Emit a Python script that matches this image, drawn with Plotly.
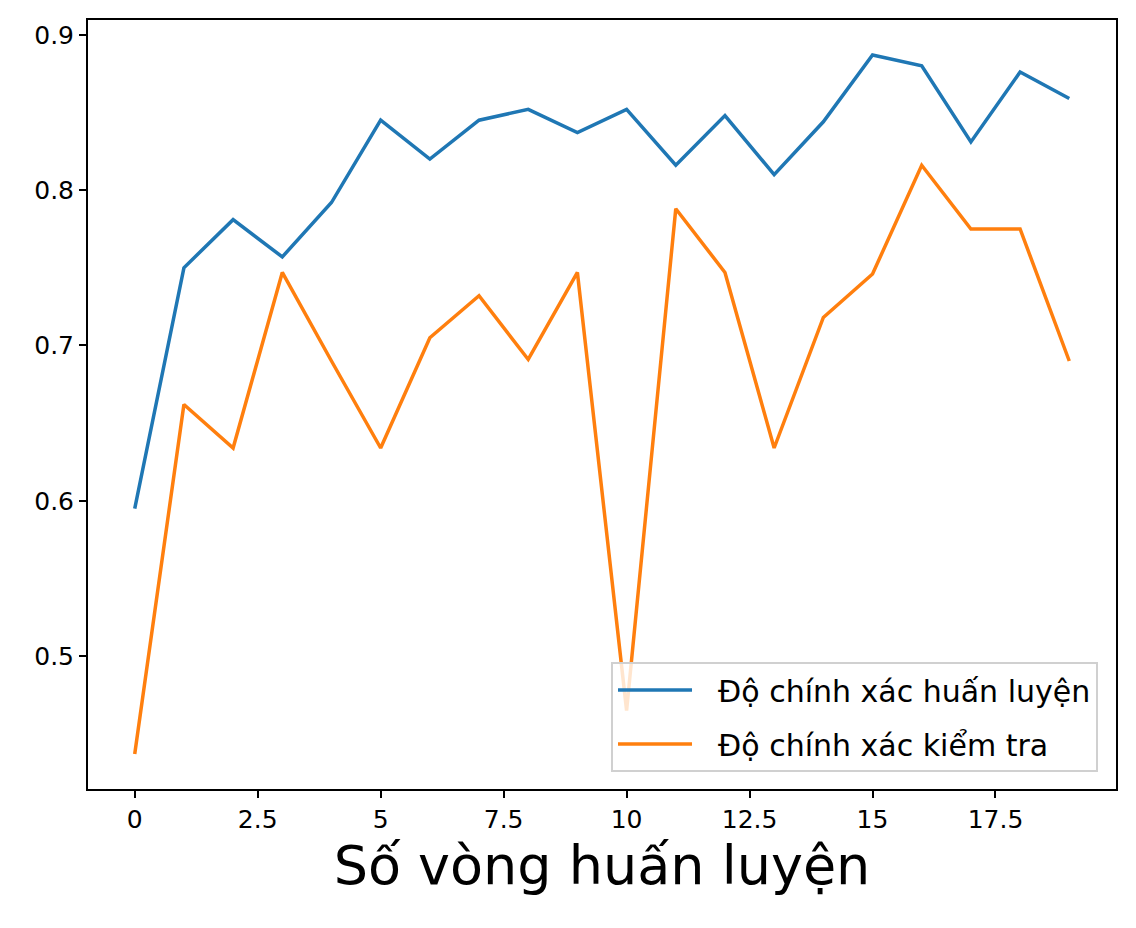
import plotly.graph_objects as go

# epochs and accuracies
epochs = list(range(20))
train_acc = [0.595, 0.750, 0.781, 0.757, 0.792, 0.845, 0.820, 0.845, 0.852, 0.837,
             0.852, 0.816, 0.848, 0.810, 0.844, 0.887, 0.880, 0.831, 0.876, 0.859]
test_acc = [0.437, 0.662, 0.634, 0.747, 0.690, 0.634, 0.705, 0.732, 0.691, 0.747,
            0.465, 0.788, 0.747, 0.634, 0.718, 0.746, 0.816, 0.775, 0.775, 0.690]
x_ticks = [0, 2.5, 5, 7.5, 10, 12.5, 15, 17.5]
x_tick_labels = ["0", "2.5", "5", "7.5", "10", "12.5", "15", "17.5"]
y_ticks = [0.5, 0.6, 0.7, 0.8, 0.9]
y_tick_labels = ["0.5", "0.6", "0.7", "0.8", "0.9"]

# small spacer so the legend text sits further from its line, like matplotlib
pad = "\u2002\u2009"

fig = go.Figure()
fig.add_trace(go.Scatter(x=epochs, y=train_acc, mode="lines", name=pad + "Độ chính xác huấn luyện",
                         legendgroup="train", line=dict(color="#1f77b4", width=3.5)))
fig.add_trace(go.Scatter(x=epochs, y=test_acc, mode="lines", name=pad + "Độ chính xác kiểm tra",
                         legendgroup="test", line=dict(color="#ff7f0e", width=3.5)))

axis_style = dict(showline=True, linecolor="black", linewidth=2, mirror=True,
                  ticks="outside", ticklen=7, tickwidth=2, tickcolor="black",
                  showgrid=False, zeroline=False,
                  tickfont=dict(family="DejaVu Sans", size=25, color="black"))

fig.update_xaxes(range=[-0.95, 19.95], tickvals=x_ticks, ticktext=x_tick_labels,
                 title=dict(text="Số vòng huấn luyện", font=dict(family="DejaVu Sans", size=54, color="black"),
                            standoff=12),
                 **axis_style)
fig.update_yaxes(range=[0.4145, 0.9095], tickvals=y_ticks, ticktext=y_tick_labels, **axis_style)

# page body adds 8px margin, so the figure is 16px smaller than the window
fig.update_layout(
    width=1120, height=912,
    margin=dict(l=80, r=10, t=12, b=131),
    plot_bgcolor="white", paper_bgcolor="white",
    font=dict(family="DejaVu Sans", color="black"),
    legend=dict(x=0.9825, y=0.022, xanchor="right", yanchor="bottom",
                bgcolor="rgba(255,255,255,0.8)", bordercolor="#d0d0d0", borderwidth=2,
                font=dict(family="DejaVu Sans", size=30, color="black"),
                itemwidth=74, tracegroupgap=12),
)

fig.write_html("out.html")
